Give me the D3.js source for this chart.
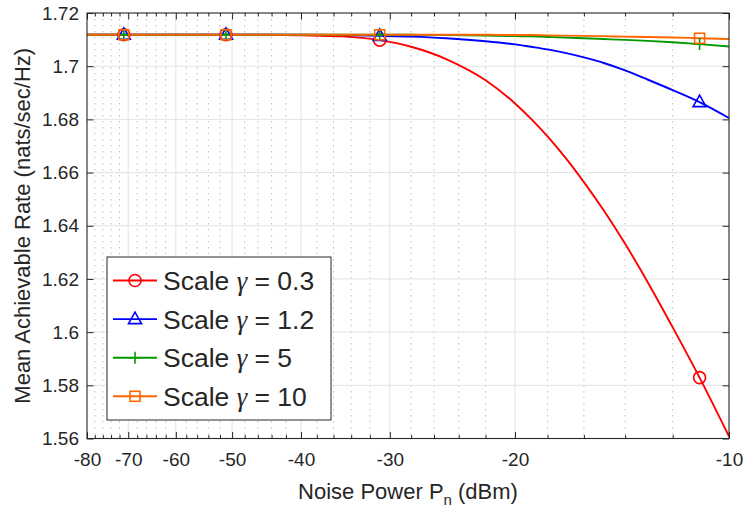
<!DOCTYPE html>
<html>
<head>
<meta charset="utf-8">
<script src="https://cdn.jsdelivr.net/npm/d3@7"></script>
<style>
  body { margin: 0; background: #fff; }
  text { font-family: "Liberation Sans", Arial, sans-serif; fill: #262626; }
</style>
</head>
<body>
<div id="chart"></div>
<script>
// Noise power in dBm (markers sit on -71, -51, -31, -11)
const noisePower = [-80, -75, -71, -65, -60, -55, -51, -45, -40, -35, -31, -28, -25,
  -22, -20, -19, -18, -17, -16, -15, -14, -13, -12, -11, -10];

const rateGamma03 = [1.7118, 1.7118, 1.7118, 1.7118, 1.7118, 1.7118, 1.7118, 1.7118, 1.7116,
  1.7112, 1.7098, 1.7073, 1.7027, 1.6947, 1.6860, 1.6803, 1.6736, 1.6657, 1.6564, 1.6457,
  1.6332, 1.6186, 1.6018, 1.5829, 1.5608];
const rateGamma12 = [1.7118, 1.7118, 1.7118, 1.7118, 1.7118, 1.7118, 1.7118, 1.7118, 1.7118,
  1.7117, 1.7114, 1.7111, 1.7105, 1.7094, 1.7082, 1.7073, 1.7063, 1.7050, 1.7033, 1.7012,
  1.6984, 1.6949, 1.6910, 1.6865, 1.6805];
const rateGamma5 = [1.7118, 1.7118, 1.7118, 1.7118, 1.7118, 1.7118, 1.7118, 1.7118, 1.7118,
  1.7118, 1.7118, 1.7118, 1.7117, 1.7115, 1.7113, 1.7112, 1.7110, 1.7108, 1.7105, 1.7102,
  1.7099, 1.7095, 1.7090, 1.7083, 1.7074];
const rateGamma10 = [1.7118, 1.7118, 1.7118, 1.7118, 1.7118, 1.7118, 1.7118, 1.7118, 1.7118,
  1.7118, 1.7118, 1.7118, 1.7118, 1.7118, 1.7117, 1.7117, 1.7116, 1.7115, 1.7114, 1.7113,
  1.7111, 1.7110, 1.7108, 1.7105, 1.7102];

const gammaLabels = ['0.3', '1.2', '5', '10'];
const markerPower = [-71, -51, -31, -11];

const xTickValues = [-80, -70, -60, -50, -40, -30, -20, -10];
const xMinorValues = d3.range(-78, -10, 2).filter(v => v % 10 !== 0);
const yTickValues = [1.56, 1.58, 1.6, 1.62, 1.64, 1.66, 1.68, 1.7, 1.72];
const yTickLabels = ['1.56', '1.58', '1.6', '1.62', '1.64', '1.66', '1.68', '1.7', '1.72'];

const width = 745;
const height = 511;
const margin = { top: 13, right: 16, bottom: 72.5, left: 87 };
const innerWidth = width - margin.left - margin.right;
const innerHeight = height - margin.top - margin.bottom;

const series = [
  { values: rateGamma03, color: '#ff0000', marker: 'circle' },
  { values: rateGamma12, color: '#0000ff', marker: 'triangle' },
  { values: rateGamma5, color: '#009900', marker: 'plus' },
  { values: rateGamma10, color: '#ff6600', marker: 'square' },
];

const svg = d3.select('#chart')
  .append('svg')
    .attr('width', width)
    .attr('height', height);

const chart = svg.append('g')
  .attr('transform', `translate(${margin.left},${margin.top})`);

// The axis is logarithmic in |P_n|, so -80 sits left and -10 right
const xLog = d3.scaleLog().domain([80, 10]).range([0, innerWidth]);
const xScale = v => xLog(-v);
const yScale = d3.scaleLinear().domain([1.56, 1.72]).range([innerHeight, 0]);

// Grid
chart.append('g')
  .selectAll('line')
  .data(xMinorValues)
  .join('line')
    .attr('x1', d => xScale(d)).attr('x2', d => xScale(d))
    .attr('y1', 0).attr('y2', innerHeight)
    .attr('stroke', '#bdbdbd')
    .attr('stroke-dasharray', '1.5,4.5');

chart.append('g')
  .selectAll('line')
  .data(xTickValues.slice(1, -1))
  .join('line')
    .attr('x1', d => xScale(d)).attr('x2', d => xScale(d))
    .attr('y1', 0).attr('y2', innerHeight)
    .attr('stroke', '#e2e2e2');

chart.append('g')
  .selectAll('line')
  .data(yTickValues.slice(1, -1))
  .join('line')
    .attr('x1', 0).attr('x2', innerWidth)
    .attr('y1', d => yScale(d)).attr('y2', d => yScale(d))
    .attr('stroke', '#e2e2e2');

// Curves
const line = d3.line()
  .x((d, i) => xScale(noisePower[i]))
  .y(d => yScale(d))
  .curve(d3.curveMonotoneX);

function drawMarker(g, type, cx, cy, color) {
  const m = g.append('g').attr('transform', `translate(${cx},${cy})`)
    .attr('fill', 'none').attr('stroke', color).attr('stroke-width', 1.6);
  if (type === 'circle') m.append('circle').attr('r', 6);
  if (type === 'triangle') m.append('path').attr('d', 'M0,-7L6.5,4.5L-6.5,4.5Z');
  if (type === 'plus') m.append('path').attr('d', 'M-6,0H6M0,-6V6');
  if (type === 'square') m.append('rect').attr('x', -5).attr('y', -5).attr('width', 10).attr('height', 10);
}

series.forEach(s => {
  chart.append('path')
    .datum(s.values)
    .attr('d', line)
    .attr('fill', 'none')
    .attr('stroke', s.color)
    .attr('stroke-width', 1.9);
});

series.forEach(s => {
  markerPower.forEach(p => {
    const i = noisePower.indexOf(p);
    drawMarker(chart, s.marker, xScale(p), yScale(s.values[i]), s.color);
  });
});

// Axes: ticks point inward on all four sides
const axisColor = '#262626';
function styleAxis(g) {
  g.select('.domain').remove();
  g.selectAll('line').attr('stroke', axisColor);
  g.selectAll('text').attr('font-size', 19).attr('fill', axisColor)
    .style('font-family', '"Liberation Sans", Arial, sans-serif');
}
// Tick-only axes carry no labels at all
function ticksOnly(g) {
  styleAxis(g);
  g.selectAll('text').remove();
}

chart.append('g')
  .attr('transform', `translate(0,${innerHeight})`)
  .call(d3.axisBottom(xLog).tickValues(xTickValues.map(v => -v))
    .tickFormat(v => String(-v)).tickSize(-6.5).tickPadding(14))
  .call(styleAxis);
chart.append('g')
  .attr('transform', `translate(0,${innerHeight})`)
  .call(d3.axisBottom(xLog).tickValues(xMinorValues.map(v => -v)).tickSize(-3.5))
  .call(ticksOnly);
chart.append('g')
  .call(d3.axisTop(xLog).tickValues(xTickValues.map(v => -v)).tickSize(-6.5))
  .call(ticksOnly);
chart.append('g')
  .call(d3.axisTop(xLog).tickValues(xMinorValues.map(v => -v)).tickSize(-3.5))
  .call(ticksOnly);

chart.append('g')
  .call(d3.axisLeft(yScale).tickValues(yTickValues)
    .tickFormat((d, i) => yTickLabels[i]).tickSize(-6.5).tickPadding(8))
  .call(styleAxis);
chart.append('g')
  .attr('transform', `translate(${innerWidth},0)`)
  .call(d3.axisRight(yScale).tickValues(yTickValues).tickSize(-6.5))
  .call(ticksOnly);

chart.append('rect')
  .attr('width', innerWidth)
  .attr('height', innerHeight)
  .attr('fill', 'none')
  .attr('stroke', axisColor)
  .attr('stroke-width', 1.1);

// Axis labels
const xLabel = svg.append('text')
  .attr('x', margin.left + innerWidth / 2)
  .attr('y', 499)
  .attr('text-anchor', 'middle')
  .attr('font-size', 22);
xLabel.append('tspan').text('Noise Power P');
xLabel.append('tspan').attr('font-size', 15).attr('dy', 6).text('n');
xLabel.append('tspan').attr('dy', -6).text(' (dBm)');

svg.append('text')
  .attr('transform', `translate(30,${margin.top + innerHeight / 2}) rotate(-90)`)
  .attr('text-anchor', 'middle')
  .attr('font-size', 22)
  .text('Mean Achievable Rate (nats/sec/Hz)');

// Legend
const legend = svg.append('g').attr('transform', 'translate(107,257)');
legend.append('rect')
  .attr('width', 224)
  .attr('height', 163)
  .attr('fill', '#fff')
  .attr('stroke', axisColor);

series.forEach((s, i) => {
  const cy = 23.5 + i * 38.6;
  legend.append('line')
    .attr('x1', 6).attr('x2', 50)
    .attr('y1', cy).attr('y2', cy)
    .attr('stroke', s.color).attr('stroke-width', 1.9);
  drawMarker(legend, s.marker, 28, cy, s.color);
  const t = legend.append('text')
    .attr('x', 56)
    .attr('y', cy + 9.5)
    .attr('font-size', 26.5)
    .attr('fill', '#000');
  t.append('tspan').text('Scale ');
  t.append('tspan')
    .style('font-family', '"Liberation Serif", "Times New Roman", serif')
    .attr('font-style', 'italic')
    .text('γ');
  t.append('tspan').text(` = ${gammaLabels[i]}`);
});
</script>
</body>
</html>
